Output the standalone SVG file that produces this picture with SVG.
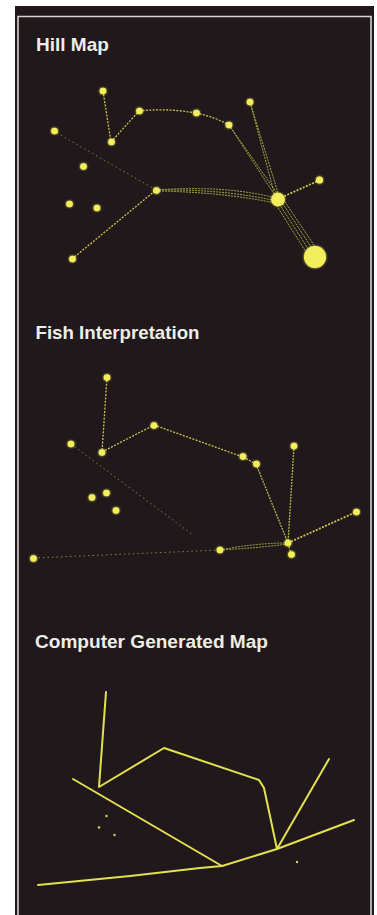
<svg xmlns="http://www.w3.org/2000/svg" width="377" height="915" viewBox="0 0 377 915">
<defs>
<style>
.bg{fill:#21181b}
.frame{fill:none;stroke:#d4d4cc;stroke-width:1.6}
.title{font-family:"Liberation Sans",Arial,sans-serif;font-weight:bold;font-size:19px;fill:#eeeee4}
.n{fill:#f3ef5c}
.d{fill:none;stroke:#c9c64c;stroke-width:1.3;stroke-dasharray:2 1.4}
.f{fill:none;stroke:#b3b446;stroke-width:1;stroke-dasharray:1.5 3;opacity:.7}
.b{fill:none;stroke:#a9b84a;stroke-width:0.9;stroke-dasharray:2 1}
.s{fill:none;stroke:#e4e050;stroke-width:2;stroke-linejoin:round;stroke-linecap:round}
.sd{fill:#d8d450}
</style>
<filter id="glow" x="-50%" y="-50%" width="200%" height="200%">
<feGaussianBlur stdDeviation="1"/>
<feMerge><feMergeNode/><feMergeNode in="SourceGraphic"/></feMerge>
</filter>
</defs>
<rect x="0" y="0" width="377" height="915" fill="#ffffff"/>
<rect class="bg" x="15" y="6" width="359" height="909"/>
<path class="frame" d="M18,915 V16.5 H371 V915"/>

<text class="title" x="36" y="51">Hill Map</text>
<text class="title" x="35.5" y="339" textLength="164" lengthAdjust="spacingAndGlyphs">Fish Interpretation</text>
<text class="title" x="35" y="647.5" textLength="233" lengthAdjust="spacingAndGlyphs">Computer Generated Map</text>

<g id="connectors">
<!-- Hill Map -->
<path class="d" d="M103,91 L111,142"/>
<path class="d" d="M111,142 L139,111"/>
<path class="d" d="M139,111 Q168,108 196,113"/>
<path class="d" d="M196,113 Q215,117 229,125"/>
<path class="b" d="M229,125 L276,197"/>
<path class="b" d="M229,125 L279,196"/>
<path class="b" d="M250,102 L275,196"/>
<path class="b" d="M250,102 L279,196"/>
<path class="b" d="M156,190 Q225,185 276,198"/>
<path class="b" d="M156,190 Q225,189 276,201"/>
<path class="b" d="M156,191 Q222,192 275,203"/>
<path class="d" d="M278,199 L320,180" style="stroke-width:1.8"/>
<path class="b" d="M275,203 L311,260"/>
<path class="b" d="M278,202 L314,258"/>
<path class="b" d="M281,201 L317,256"/>
<path class="b" d="M283,199 L320,254"/>
<path class="d" d="M72,259 L156,190"/>
<path class="f" d="M57,133 L156,190"/>
<!-- Fish Interpretation -->
<path class="d" d="M107,377 L102,452"/>
<path class="d" d="M102,452 L154,425"/>
<path class="d" d="M154,425 L243,457"/>
<path class="d" d="M243,457 L256,464"/>
<path class="b" d="M256,464 L288,543" style="stroke-width:1.3"/>
<path class="b" d="M294,446 L288,543" style="stroke-width:1.3"/>
<path class="d" d="M288,543 L356,512" style="stroke-width:1.8"/>
<path class="b" d="M220,550 Q255,543 288,543"/>
<path class="b" d="M220,550 Q258,548 288,544"/>
<path class="d" d="M288,543 L291,554"/>
<path class="f" d="M71,444 L193,535"/>
<path class="f" d="M34,558 L220,550"/>
<!-- Computer Generated Map -->
<polyline class="s" points="106,692 99,787 164,748 259,780 264,788 277,849 329,759"/>
<polyline class="s" points="73,779 222,866"/>
<polyline class="s" points="38,885 130,876 200,868 222,866 277,849 354,820"/>
</g>

<g id="hill-map" filter="url(#glow)">
<g id="h-a"><circle class="n" cx="103" cy="91" r="3.3"/></g>
<g id="h-b"><circle class="n" cx="111.5" cy="142" r="3.3"/></g>
<g id="h-c"><circle class="n" cx="139.5" cy="111" r="3.3"/></g>
<g id="h-d"><circle class="n" cx="196.5" cy="113" r="3.3"/></g>
<g id="h-e"><circle class="n" cx="229" cy="125" r="3.3"/></g>
<g id="h-f"><circle class="n" cx="250" cy="102" r="3.3"/></g>
<g id="h-g"><circle class="n" cx="54.5" cy="131" r="3.3"/></g>
<g id="h-h"><circle class="n" cx="83.5" cy="166.5" r="3.3"/></g>
<g id="h-i"><circle class="n" cx="69.5" cy="204" r="3.3"/></g>
<g id="h-j"><circle class="n" cx="97" cy="208" r="3.3"/></g>
<g id="h-k"><circle class="n" cx="156.5" cy="190.5" r="3.3"/></g>
<g id="h-l"><circle class="n" cx="72.5" cy="259" r="3.3"/></g>
<g id="h-m"><circle class="n" cx="278" cy="199.5" r="6.8"/></g>
<g id="h-n"><circle class="n" cx="319.5" cy="180" r="3.5"/></g>
<g id="h-o"><circle class="n" cx="315" cy="257" r="11"/></g>
</g>

<g id="fish-interpretation" filter="url(#glow)">
<g id="f-a"><circle class="n" cx="107" cy="377.5" r="3.3"/></g>
<g id="f-b"><circle class="n" cx="102" cy="452.5" r="3.3"/></g>
<g id="f-c"><circle class="n" cx="154" cy="425.5" r="3.3"/></g>
<g id="f-d"><circle class="n" cx="243" cy="456.5" r="3.3"/></g>
<g id="f-e"><circle class="n" cx="256.5" cy="464" r="3.3"/></g>
<g id="f-f"><circle class="n" cx="71" cy="444" r="3.3"/></g>
<g id="f-g"><circle class="n" cx="294" cy="446" r="3.3"/></g>
<g id="f-h"><circle class="n" cx="92" cy="497.5" r="3.3"/></g>
<g id="f-i"><circle class="n" cx="106.5" cy="493" r="3.3"/></g>
<g id="f-j"><circle class="n" cx="116" cy="510.5" r="3.3"/></g>
<g id="f-k"><circle class="n" cx="356.5" cy="512" r="3.3"/></g>
<g id="f-l"><circle class="n" cx="288" cy="543" r="3.3"/></g>
<g id="f-m"><circle class="n" cx="291.5" cy="554.5" r="3.3"/></g>
<g id="f-n"><circle class="n" cx="220" cy="550" r="3.3"/></g>
<g id="f-o"><circle class="n" cx="33.5" cy="558.5" r="3.3"/></g>
</g>

<g id="computer-map">
<g id="c-dot1"><circle class="sd" cx="106.5" cy="816" r="1.2"/></g>
<g id="c-dot2"><circle class="sd" cx="99" cy="827.5" r="1.3"/></g>
<g id="c-dot3"><circle class="sd" cx="114.5" cy="835" r="1.2"/></g>
<g id="c-dot4"><circle class="sd" cx="297" cy="862" r="1.2"/></g>
</g>
</svg>
